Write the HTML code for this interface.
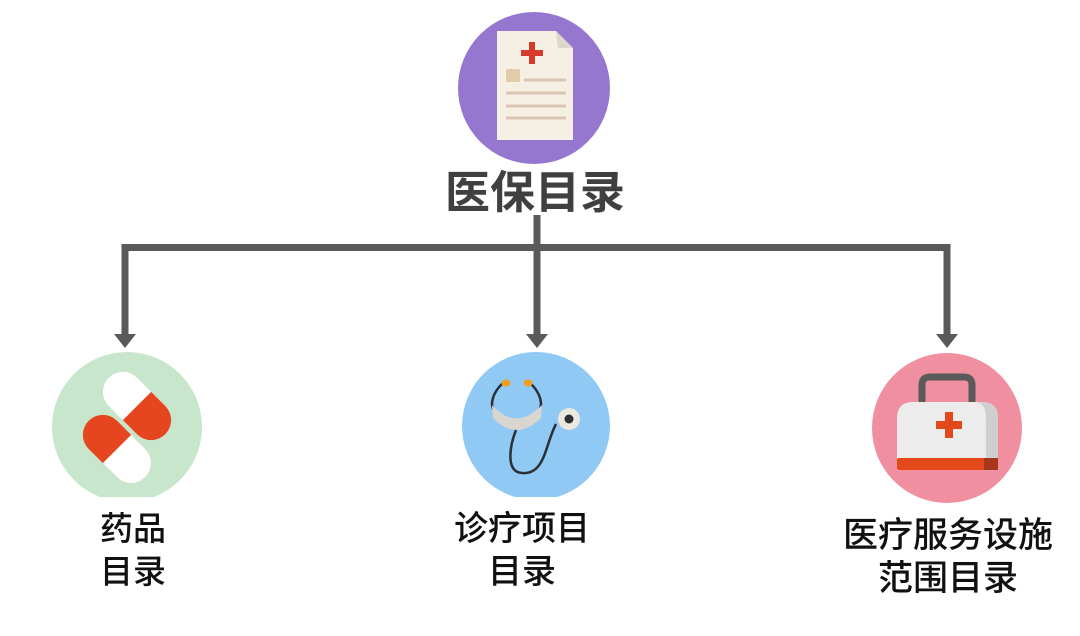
<!DOCTYPE html>
<html><head><meta charset="utf-8"><style>
html,body{margin:0;padding:0;background:#fff;}
svg{display:block;}
text{font-family:"Liberation Sans","Noto Sans CJK SC",sans-serif;}
</style></head><body>
<svg width="1080" height="636" viewBox="0 0 1080 636">
<defs>
<clipPath id="cb"><rect x="0" y="0" width="1080" height="497"/></clipPath>
</defs>
<g stroke="#5a5a5a" stroke-width="7" fill="none">
<path d="M537 215 V337"/>
<path d="M125 337 V247.5 H947 V337"/>
</g>
<g fill="#5a5a5a">
<polygon points="114,334 136,334 125,348"/>
<polygon points="526,334 548,334 537,348"/>
<polygon points="936,334 958,334 947,348"/>
</g>
<circle cx="534" cy="88" r="76" fill="#9677cf"/>
<path d="M497 31 H556 L573 48 V140 H497 Z" fill="#f5efe4"/>
<path d="M556 31 L573 48 H558 Z" fill="#ddd6ce"/>
<path d="M521 50 h8 v-8 h6 v8 h8 v6 h-8 v8 h-6 v-8 h-8 Z" fill="#d63a2b"/>
<rect x="506" y="69" width="14" height="13" rx="2" fill="#e3cba9"/>
<g stroke="#dcc4b4" stroke-width="3"><line x1="524" y1="80" x2="566" y2="80"/><line x1="506" y1="93" x2="566" y2="93"/><line x1="506" y1="106" x2="566" y2="106"/><line x1="506" y1="118" x2="566" y2="118"/></g>
<text x="535" y="208" font-size="45" font-weight="bold" fill="#404040" text-anchor="middle">医保目录</text>
<g clip-path="url(#cb)">
<circle cx="127" cy="427" r="75" fill="#c7e6cc"/>
<circle cx="536" cy="426" r="74" fill="#91c9f5"/>
</g>
<circle cx="947" cy="428" r="75" fill="#f08fa0"/>
<g transform="translate(137,406) rotate(45)">
<rect x="-40" y="-20" width="80" height="40" rx="20" fill="#fff"/>
<path d="M0 -20 H20 A20 20 0 0 1 20 20 H0 Z" fill="#e6461f"/>
</g>
<g transform="translate(117,449) rotate(45)">
<rect x="-40" y="-20" width="80" height="40" rx="20" fill="#e6461f"/>
<path d="M0 -20 H20 A20 20 0 0 1 20 20 H0 Z" fill="#fff"/>
</g>
<text x="133" y="540" font-size="33" font-weight="500" fill="#111" text-anchor="middle">药品</text>
<text x="133" y="583" font-size="33" font-weight="500" fill="#111" text-anchor="middle">目录</text>
<path d="M503 383 C492 393 490 405 494 410 M530 383 C541 393 543 405 539 410" stroke="#2b2f36" stroke-width="2.5" fill="none"/>
<path d="M492 405 Q516 432 542 405 L541 418 Q516 442 493 418 Z" fill="#d9d6d0"/>
<path d="M516 430 C510 445 505 472 522 473 C545 475 545 445 556 424" stroke="#2b2f36" stroke-width="2.5" fill="none"/>
<circle cx="569" cy="419" r="11" fill="#ebe8e0"/><circle cx="569" cy="419" r="4.5" fill="#2b2f36"/>
<ellipse cx="506" cy="383" rx="4.5" ry="3.5" fill="#f0a020"/><ellipse cx="528" cy="383" rx="4.5" ry="3.5" fill="#f0a020"/>
<text x="522" y="540" font-size="34" font-weight="500" fill="#111" text-anchor="middle">诊疗项目</text>
<text x="522" y="583" font-size="34" font-weight="500" fill="#111" text-anchor="middle">目录</text>
<path d="M922 405 V385 Q922 377 930 377 H964 Q972 377 972 385 V405" stroke="#5a5a5a" stroke-width="7" fill="none"/>
<path d="M897 418 Q897 402 913 402 H982 Q998 402 998 418 V470 H897 Z" fill="#ececec"/>
<path d="M977 402 H982 Q998 402 998 418 V470 H986 V418 Q986 404 977 402Z" fill="#cfcfcf"/>
<rect x="897" y="458" width="101" height="12" rx="2" fill="#e4491c"/>
<rect x="984" y="458" width="14" height="12" fill="#a8361a"/>
<path d="M936 421 h9 v-9 h8 v9 h9 v8 h-9 v9 h-8 v-9 h-9 Z" fill="#e4491c"/>
<text x="948" y="547" font-size="35" font-weight="500" fill="#111" text-anchor="middle">医疗服务设施</text>
<text x="948" y="590" font-size="35" font-weight="500" fill="#111" text-anchor="middle">范围目录</text>
</svg>
</body></html>
